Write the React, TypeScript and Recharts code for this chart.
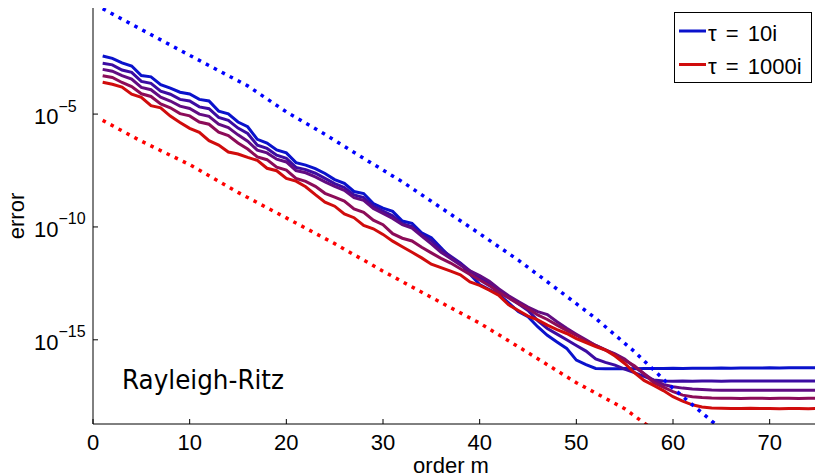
import { LineChart, Line, XAxis, YAxis, Legend } from "recharts";

// Error vs. order m (log y). Values are stored as log10 exponents.
const orders = Array.from({ length: 75 }, (_, i) => i + 1);

const tau10Exp = [
  -2.43, -2.53, -2.73, -2.87, -3.29, -3.35, -3.7, -3.85, -4.03, -4.11,
  -4.35, -4.42, -4.87, -4.99, -5.35, -5.56, -6.12, -6.28, -6.59, -6.72,
  -7.15, -7.26, -7.42, -7.63, -7.9, -8.07, -8.43, -8.52, -8.96, -9.17,
  -9.31, -9.74, -9.84, -10.26, -10.48, -10.92, -11.37, -11.62, -12.1, -12.55,
  -12.77, -12.99, -13.36, -13.75, -13.98, -14.42, -14.8, -15.1, -15.38, -15.9,
  -16.1, -16.27, -16.28, -16.28, -16.27, -16.28, -16.27, -16.27, -16.27, -16.26,
  -16.27, -16.26, -16.26, -16.26, -16.25, -16.26, -16.25, -16.25, -16.25, -16.24,
  -16.25, -16.24, -16.24, -16.24, -16.24,
];
const tau2Exp = [
  -2.75, -2.82, -3.05, -3.15, -3.55, -3.64, -3.98, -4.12, -4.35, -4.42,
  -4.68, -4.76, -5.15, -5.28, -5.62, -5.86, -6.38, -6.52, -6.82, -6.96,
  -7.36, -7.46, -7.62, -7.85, -8.08, -8.25, -8.58, -8.7, -9.08, -9.3,
  -9.5, -9.85, -9.98, -10.35, -10.6, -11.0, -11.3, -11.6, -11.95, -12.25,
  -12.5, -12.8, -13.1, -13.4, -13.7, -14.15, -14.5, -14.75, -15.0, -15.25,
  -15.5, -15.85, -16.0, -16.12, -16.3, -16.45, -16.62, -16.78, -16.83, -16.84,
  -16.83, -16.84, -16.83, -16.83, -16.84, -16.83, -16.83, -16.82, -16.83, -16.83,
  -16.82, -16.83, -16.82, -16.82, -16.82,
];
const tau3Exp = [
  -3.02, -3.1, -3.3, -3.45, -3.82, -3.92, -4.25, -4.42, -4.65, -4.75,
  -5.0, -5.1, -5.45, -5.6, -5.92, -6.2, -6.6, -6.72, -7.0, -7.12,
  -7.5, -7.6, -7.78, -8.0, -8.2, -8.38, -8.7, -8.82, -9.18, -9.4,
  -9.62, -9.9, -10.05, -10.4, -10.75, -11.12, -11.4, -11.69, -11.95, -12.15,
  -12.4, -12.75, -13.05, -13.3, -13.55, -13.75, -13.88, -14.2, -14.49, -14.75,
  -15.0, -15.25, -15.45, -15.62, -15.85, -16.2, -16.5, -16.8, -16.98, -17.08,
  -17.14, -17.18, -17.2, -17.22, -17.23, -17.24, -17.24, -17.23, -17.24, -17.24,
  -17.24, -17.23, -17.24, -17.24, -17.24,
];
const tau4Exp = [
  -3.3, -3.38, -3.6, -3.78, -4.1, -4.22, -4.55, -4.72, -4.98, -5.08,
  -5.35, -5.45, -5.8, -5.95, -6.28, -6.55, -6.9, -7.02, -7.35, -7.48,
  -7.85, -7.98, -8.2, -8.51, -8.68, -8.85, -9.2, -9.35, -9.7, -9.9,
  -10.3, -10.5, -10.62, -10.9, -11.15, -11.39, -11.6, -11.85, -12.1, -12.35,
  -12.6, -12.9, -13.15, -13.4, -13.62, -13.9, -14.1, -14.35, -14.58, -14.8,
  -15.05, -15.25, -15.45, -15.65, -15.9, -16.15, -16.5, -16.9, -17.1, -17.3,
  -17.45, -17.52, -17.56, -17.58, -17.59, -17.59, -17.6, -17.59, -17.59, -17.6,
  -17.59, -17.59, -17.6, -17.59, -17.59,
];
const tau1000Exp = [
  -3.59, -3.68, -3.8, -4.12, -4.26, -4.63, -4.72, -5.09, -5.37, -5.63,
  -5.81, -6.18, -6.37, -6.68, -6.77, -6.92, -7.05, -7.4, -7.51, -7.85,
  -7.97, -8.22, -8.57, -8.9, -9.08, -9.42, -9.59, -9.93, -10.08, -10.33,
  -10.63, -10.88, -11.12, -11.37, -11.65, -11.8, -11.96, -12.12, -12.44, -12.59,
  -12.8, -13.04, -13.45, -13.7, -13.95, -14.12, -14.35, -14.55, -14.72, -14.95,
  -15.12, -15.3, -15.45, -15.72, -16.05, -16.45, -16.8, -17.02, -17.25, -17.52,
  -17.72, -17.88, -17.98, -18.02, -18.03, -18.04, -18.04, -18.03, -18.04, -18.04,
  -18.05, -18.04, -18.04, -18.05, -18.04,
];

// dotted bounds
const boundBlueM = [1, 5, 8, 12, 16, 20, 24, 28, 32, 36, 40, 44, 48, 52, 56, 60, 64, 66];
const boundBlueExp = [
  -0.33, -1.25, -1.94, -2.85, -3.75, -4.9, -5.9, -6.96, -8.0, -9.15,
  -10.3, -11.47, -12.75, -14.05, -15.52, -17.15, -18.6, -19.3,
];
const boundRedM = [1, 5, 10, 15, 20, 25, 30, 35, 40, 45, 50, 55, 58];
const boundRedExp = [
  -5.28, -6.2, -7.24, -8.47, -9.6, -10.74, -11.96, -13.12, -14.26, -15.57,
  -16.9, -18.05, -19.0,
];

const xTicks = [0, 10, 20, 30, 40, 50, 60, 70];
const yTicks = [1e-15, 1e-10, 1e-5];

const series = [
  { key: "s1", exps: tau10Exp, color: "#0a12cc" },
  { key: "s2", exps: tau2Exp, color: "#3c0ca2" },
  { key: "s3", exps: tau3Exp, color: "#620c82" },
  { key: "s4", exps: tau4Exp, color: "#8c0c58" },
  { key: "s5", exps: tau1000Exp, color: "#d00c0c" },
];

const rows = orders.map((m, i) => {
  const r: Record<string, number> = { m };
  series.forEach((s) => (r[s.key] = Math.pow(10, s.exps[i])));
  return r;
});
const blueBound = boundBlueM.map((m, i) => ({ m, v: Math.pow(10, boundBlueExp[i]) }));
const redBound = boundRedM.map((m, i) => ({ m, v: Math.pow(10, boundRedExp[i]) }));

const FONT = "'Liberation Sans', Arial, Helvetica, sans-serif";

function XTick({ x, y, payload }: any) {
  return (
    <g>
      <line x1={x} x2={x} y1={y} y2={y - 5} stroke="#000" />
      <text x={x} y={y + 26} textAnchor="middle" fontSize={22} fontFamily={FONT} fill="#000">
        {payload.value}
      </text>
    </g>
  );
}

function TopTick({ x, y }: any) {
  return <line x1={x} x2={x} y1={y} y2={y + 5} stroke="#000" />;
}

function YTick({ x, y, payload }: any) {
  const e = Math.round(Math.log10(payload.value));
  return (
    <g>
      <line x1={x} x2={x + 5} y1={y} y2={y} stroke="#000" />
      <text x={x - 59} y={y + 10} fontSize={22} fontFamily={FONT} fill="#000">
        10
        <tspan dy={-12.5} fontSize={16}>{"\u2212" + Math.abs(e)}</tspan>
      </text>
    </g>
  );
}

function BottomLabels() {
  return (
    <g>
      <text x={451} y={473} textAnchor="middle" fontSize={22} fontFamily={FONT} fill="#000">
        order m
      </text>
      <text
        x={122}
        y={389}
        fontSize={26}
        textLength={162}
        lengthAdjust="spacingAndGlyphs"
        fontFamily="'Comic Sans MS', 'DejaVu Sans', sans-serif"
        fill="#000"
      >
        Rayleigh-Ritz
      </text>
    </g>
  );
}

function LeftLabel() {
  return (
    <text
      x={24}
      y={216}
      transform="rotate(-90, 24, 216)"
      textAnchor="middle"
      fontSize={22}
      fontFamily={FONT}
      fill="#000"
    >
      error
    </text>
  );
}

function LegendBox() {
  return (
    <div
      style={{
        width: 138,
        height: 71,
        border: "1px solid #000",
        background: "#fff",
        boxSizing: "border-box",
      }}
    >
      <svg width={136} height={69} style={{ display: "block" }}>
        <line x1={4} x2={31} y1={18} y2={18} stroke="#0a12cc" strokeWidth={3} />
        <text x={33} y={28} fontSize={22} fontFamily={FONT} fill="#000" wordSpacing={3}>
          τ = 10i
        </text>
        <line x1={4} x2={31} y1={51.5} y2={51.5} stroke="#d00c0c" strokeWidth={3} />
        <text x={33} y={61} fontSize={22} fontFamily={FONT} fill="#000" wordSpacing={3}>
          τ = 1000i
        </text>
      </svg>
    </div>
  );
}

export default function App() {
  return (
    <div
      style={{
        position: "absolute",
        left: 0,
        top: 0,
        width: 815,
        height: 475,
        overflow: "hidden",
        background: "#fff",
      }}
    >
      <LineChart width={820} height={475} data={rows} margin={{ top: 8, right: 2, bottom: 0, left: 0 }}>
        <XAxis
          dataKey="m"
          type="number"
          domain={[0, 75]}
          ticks={xTicks}
          allowDataOverflow
          height={51}
          tickSize={0}
          tickMargin={0}
          axisLine={{ stroke: "#000" }}
          tickLine={false}
          tick={<XTick />}
          label={BottomLabels}
        />
        <XAxis
          xAxisId="top"
          orientation="top"
          dataKey="m"
          type="number"
          domain={[0, 75]}
          ticks={xTicks}
          allowDataOverflow
          height={0}
          tickSize={0}
          tickMargin={0}
          axisLine={{ stroke: "#000" }}
          tickLine={false}
          tick={<TopTick />}
        />
        <YAxis
          scale="log"
          type="number"
          domain={[Math.pow(10, -18.73), Math.pow(10, -0.3)]}
          allowDataOverflow
          ticks={yTicks}
          width={93}
          tickSize={0}
          tickMargin={0}
          axisLine={{ stroke: "#000" }}
          tickLine={false}
          tick={<YTick />}
          label={LeftLabel}
        />
        <Legend
          layout="horizontal"
          verticalAlign="middle"
          align="center"
          wrapperStyle={{ left: 674, top: 12, width: 138, height: 71 }}
          content={LegendBox}
        />
        {series.map((s) => (
          <Line
            key={s.key}
            dataKey={s.key}
            stroke={s.color}
            strokeWidth={3}
            dot={false}
            activeDot={false}
            isAnimationActive={false}
          />
        ))}
        <Line
          data={redBound}
          dataKey="v"
          stroke="#ff0000"
          strokeWidth={3.5}
          strokeDasharray="3.5 5.5"
          dot={false}
          activeDot={false}
          isAnimationActive={false}
        />
        <Line
          data={blueBound}
          dataKey="v"
          stroke="#0000ff"
          strokeWidth={3.5}
          strokeDasharray="3.5 5.5"
          dot={false}
          activeDot={false}
          isAnimationActive={false}
        />
      </LineChart>
    </div>
  );
}
